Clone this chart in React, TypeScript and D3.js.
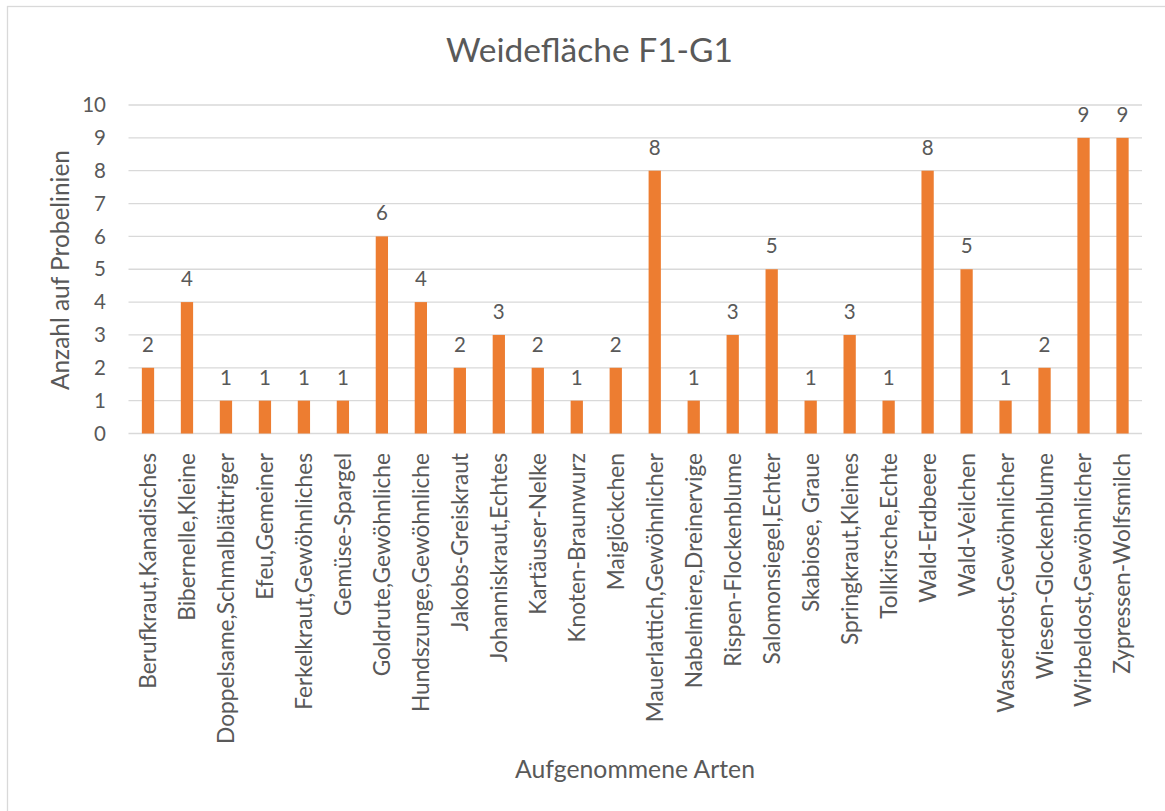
import React from 'react';
import * as d3 from 'd3';

const categories = [
    'Berufkraut,Kanadisches', 'Bibernelle,Kleine', 'Doppelsame,Schmalblättriger', 'Efeu,Gemeiner',
    'Ferkelkraut,Gewöhnliches', 'Gemüse-Spargel', 'Goldrute,Gewöhnliche', 'Hundszunge,Gewöhnliche',
    'Jakobs-Greiskraut', 'Johanniskraut,Echtes', 'Kartäuser-Nelke', 'Knoten-Braunwurz', 'Maiglöckchen',
    'Mauerlattich,Gewöhnlicher', 'Nabelmiere,Dreinervige', 'Rispen-Flockenblume', 'Salomonsiegel,Echter',
    'Skabiose, Graue', 'Springkraut,Kleines', 'Tollkirsche,Echte', 'Wald-Erdbeere', 'Wald-Veilchen',
    'Wasserdost,Gewöhnlicher', 'Wiesen-Glockenblume', 'Wirbeldost,Gewöhnlicher', 'Zypressen-Wolfsmilch',
];
const counts = [2, 4, 1, 1, 1, 1, 6, 4, 2, 3, 2, 1, 2, 8, 1, 3, 5, 1, 3, 1, 8, 5, 1, 2, 9, 9];
const yTicks = [0, 1, 2, 3, 4, 5, 6, 7, 8, 9, 10];

const W = 1165;
const H = 811;
const FONT = 'Lato, "Open Sans", sans-serif';
const TEXT = '#595959';

const App = () => {
    const left = 128.5, right = 1142, top = 105, bottom = 433.5;

    const x = d3.scaleBand().domain(categories).range([left, right]).paddingInner(0.685).paddingOuter(0.3425);
    const y = d3.scaleLinear().domain([0, 10]).range([bottom, top]);

    return (
        <svg width={W} height={H} style={{ position: 'absolute', left: 0, top: 0, background: '#fff' }}>
            <rect x={7.5} y={6.5} width={1165} height={820} fill="#fff" stroke="#d9d9d9" strokeWidth={1.3} />

            <text x={589.5} y={62} textAnchor="middle" fontFamily={FONT} fontSize={33.5} fill={TEXT}>
                Weidefläche F1-G1
            </text>

            {/* grid + y ticks */}
            {yTicks.map(t => (
                <g key={t}>
                    <line x1={left} x2={right} y1={y(t)} y2={y(t)} stroke="#d9d9d9" strokeWidth={1.3} />
                    <text x={106} y={y(t)} dy="0.35em" textAnchor="end" fontFamily={FONT} fontSize={20.5} fill={TEXT}>
                        {t}
                    </text>
                </g>
            ))}

            {/* bars */}
            {categories.map((c, i) => (
                <rect key={c} x={x(c)} y={y(counts[i])} width={x.bandwidth()} height={y(0) - y(counts[i])} fill="#ED7D31" />
            ))}

            {/* data labels */}
            {categories.map((c, i) => (
                <text key={c} x={x(c) + x.bandwidth() / 2} y={y(counts[i]) - 16} textAnchor="middle"
                    fontFamily={FONT} fontSize={20.5} fill={TEXT}>
                    {counts[i]}
                </text>
            ))}

            {/* category labels */}
            {categories.map(c => {
                const cx = x(c) + x.bandwidth() / 2;
                return (
                    <text key={c} transform={`translate(${cx},453) rotate(-90)`} dy="0.35em" textAnchor="end"
                        fontFamily={FONT} fontSize={22.7} fill={TEXT}>
                        {c}
                    </text>
                );
            })}

            <text transform="translate(60,270) rotate(-90)" dy="0.35em" textAnchor="middle" fontFamily={FONT}
                fontSize={25} textLength={240} lengthAdjust="spacingAndGlyphs" fill={TEXT}>
                Anzahl auf Probelinien
            </text>
            <text x={635} y={778} textAnchor="middle" fontFamily={FONT} fontSize={25}
                textLength={240} lengthAdjust="spacingAndGlyphs" fill={TEXT}>
                Aufgenommene Arten
            </text>
        </svg>
    );
};

export default App;
